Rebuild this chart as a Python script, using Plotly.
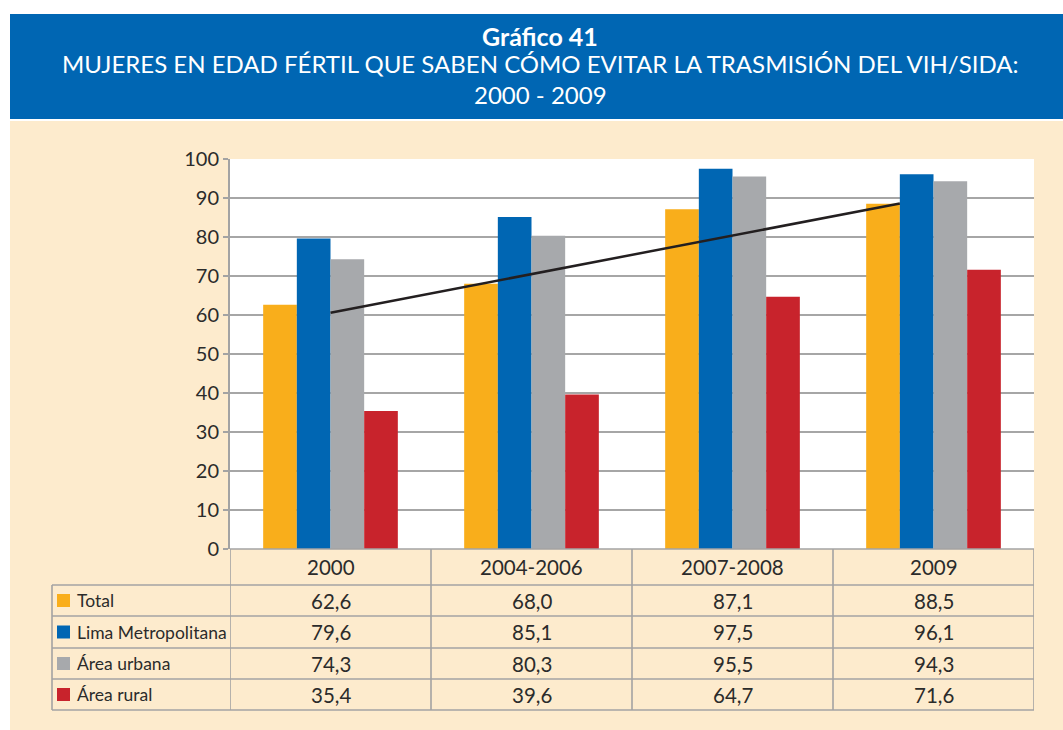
import plotly.graph_objects as go

# ---- data -------------------------------------------------------------
categorias = ["2000", "2004-2006", "2007-2008", "2009"]
series = ["Total", "Lima Metropolitana", "Área urbana", "Área rural"]
total = [62.6, 68.0, 87.1, 88.5]
lima_metropolitana = [79.6, 85.1, 97.5, 96.1]
area_urbana = [74.3, 80.3, 95.5, 94.3]
area_rural = [35.4, 39.6, 64.7, 71.6]
# linear trend of the total, value at its first and last point
tendencia_total = [60.6, 88.6]
y_ticks = list(range(0, 101, 10))

valores = [total, lima_metropolitana, area_urbana, area_rural]
colores = ["#F9AE1B", "#0066B3", "#A7A9AC", "#C8232C"]

# ---- page geometry (pixels) ------------------------------------------
W, H = 1063, 730
FONT = "Lato"
TXT = "#2B2B2B"
GRID = "#A6A6A6"
LINE = "#A3A3A3"


def px(x):
    return x / W


def py(y):
    return 1 - y / H


PLOT_L, PLOT_R, PLOT_T, PLOT_B = 230, 1034, 159, 549
TABLE_L = 52
row_edges = [PLOT_B, 585, 616, 648, 679, 710]
BARGAP = 0.33

fig = go.Figure()

xs = list(range(len(categorias)))
for nombre, vals, col in zip(series, valores, colores):
    fig.add_trace(go.Bar(
        x=xs, y=vals, name=nombre, marker=dict(color=col, line=dict(width=0)),
        showlegend=False, hoverinfo="skip",
    ))

# trend line: from the centre of the first group to the left edge of the
# second bar of the last group
bar_w = (1 - BARGAP) / len(series)
fig.add_trace(go.Scatter(
    x=[xs[0], xs[-1] - bar_w], y=tendencia_total, mode="lines",
    line=dict(color="#231F20", width=2.5), showlegend=False, hoverinfo="skip",
))

shapes = [
    # title banner
    dict(type="rect", xref="paper", yref="paper", x0=px(10), x1=1,
         y0=py(119), y1=py(14), fillcolor="#0066B3", line=dict(width=0),
         layer="below"),
    # cream panel
    dict(type="rect", xref="paper", yref="paper", x0=px(10), x1=1,
         y0=0, y1=py(121), fillcolor="#FDEBCD", line=dict(width=0),
         layer="below"),
    # white plotting area
    dict(type="rect", xref="paper", yref="paper", x0=px(PLOT_L), x1=px(PLOT_R),
         y0=py(PLOT_B), y1=py(PLOT_T), fillcolor="white", line=dict(width=0),
         layer="below"),
]

annotations = [
    dict(text="<b>Gráfico 41</b>", x=px(540), y=py(36), size=25),
    dict(text="MUJERES EN EDAD FÉRTIL QUE SABEN CÓMO EVITAR LA TRASMISIÓN DEL VIH/SIDA:",
         x=px(540), y=py(64), size=24),
    dict(text="2000 - 2009", x=px(540), y=py(95), size=24),
]
annotations = [dict(text=a["text"], x=a["x"], y=a["y"], xref="paper",
                    yref="paper", showarrow=False, xanchor="center",
                    yanchor="middle",
                    font=dict(family=FONT, size=a["size"], color="white"))
               for a in annotations]

# ---- data table under the bars ----------------------------------------
lw = 1.6
# horizontal rules
for i, y in enumerate(row_edges):
    x0 = px(PLOT_L) if i == 0 else px(TABLE_L)
    shapes.append(dict(type="line", xref="paper", yref="paper",
                       x0=x0, x1=px(PLOT_R), y0=py(y), y1=py(y),
                       line=dict(color=LINE, width=lw)))
# vertical rules on category boundaries
for k in range(len(categorias) + 1):
    xb = k - 0.5
    shapes.append(dict(type="line", xref="x", yref="paper",
                       x0=xb, x1=xb, y0=py(row_edges[-1]), y1=py(row_edges[0]),
                       line=dict(color=LINE, width=lw)))
shapes.append(dict(type="line", xref="paper", yref="paper",
                   x0=px(TABLE_L), x1=px(TABLE_L),
                   y0=py(row_edges[-1]), y1=py(row_edges[1]),
                   line=dict(color=LINE, width=lw)))

cell_font = dict(family=FONT, size=20.5, color=TXT)
head_y = (row_edges[0] + row_edges[1]) / 2
for x, cat in zip(xs, categorias):
    annotations.append(dict(text=cat, x=x, y=py(head_y), xref="x", yref="paper",
                            showarrow=False, xanchor="center", yanchor="middle",
                            font=cell_font))

for r, (nombre, vals, col) in enumerate(zip(series, valores, colores)):
    yc = (row_edges[r + 1] + row_edges[r + 2]) / 2
    shapes.append(dict(type="rect", xref="paper", yref="paper",
                       x0=px(57), x1=px(70), y0=py(yc + 6.5), y1=py(yc - 6.5),
                       fillcolor=col, line=dict(width=0)))
    annotations.append(dict(text=nombre, x=px(75), y=py(yc), xref="paper",
                            yref="paper", showarrow=False, xanchor="left",
                            yanchor="middle",
                            font=dict(family=FONT, size=17.5, color=TXT)))
    for x, v in zip(xs, vals):
        annotations.append(dict(text=f"{v:.1f}".replace(".", ","), x=x, y=py(yc),
                                xref="x", yref="paper", showarrow=False,
                                xanchor="center", yanchor="middle",
                                font=cell_font))

fig.update_layout(
    width=W, height=H,
    margin=dict(l=0, r=0, t=0, b=0, pad=0, autoexpand=False),
    paper_bgcolor="white", plot_bgcolor="white",
    barmode="group", bargap=BARGAP, bargroupgap=0,
    xaxis=dict(domain=[px(PLOT_L), px(PLOT_R)], range=[-0.5, 3.5],
               showticklabels=False, showgrid=False, zeroline=False,
               showline=False, ticks="", fixedrange=True, automargin=False),
    yaxis=dict(domain=[py(PLOT_B), py(PLOT_T)], range=[0, 100],
               tickvals=y_ticks, showgrid=True, gridcolor=GRID, gridwidth=1.6,
               zeroline=False, showline=True, linecolor=LINE, linewidth=2,
               ticks="outside", ticklen=5, tickcolor=LINE, tickwidth=1.6,
               tickfont=dict(family=FONT, size=20, color=TXT), fixedrange=True,
               automargin=False),
    shapes=shapes, annotations=annotations,
)

fig.write_html("out.html")
